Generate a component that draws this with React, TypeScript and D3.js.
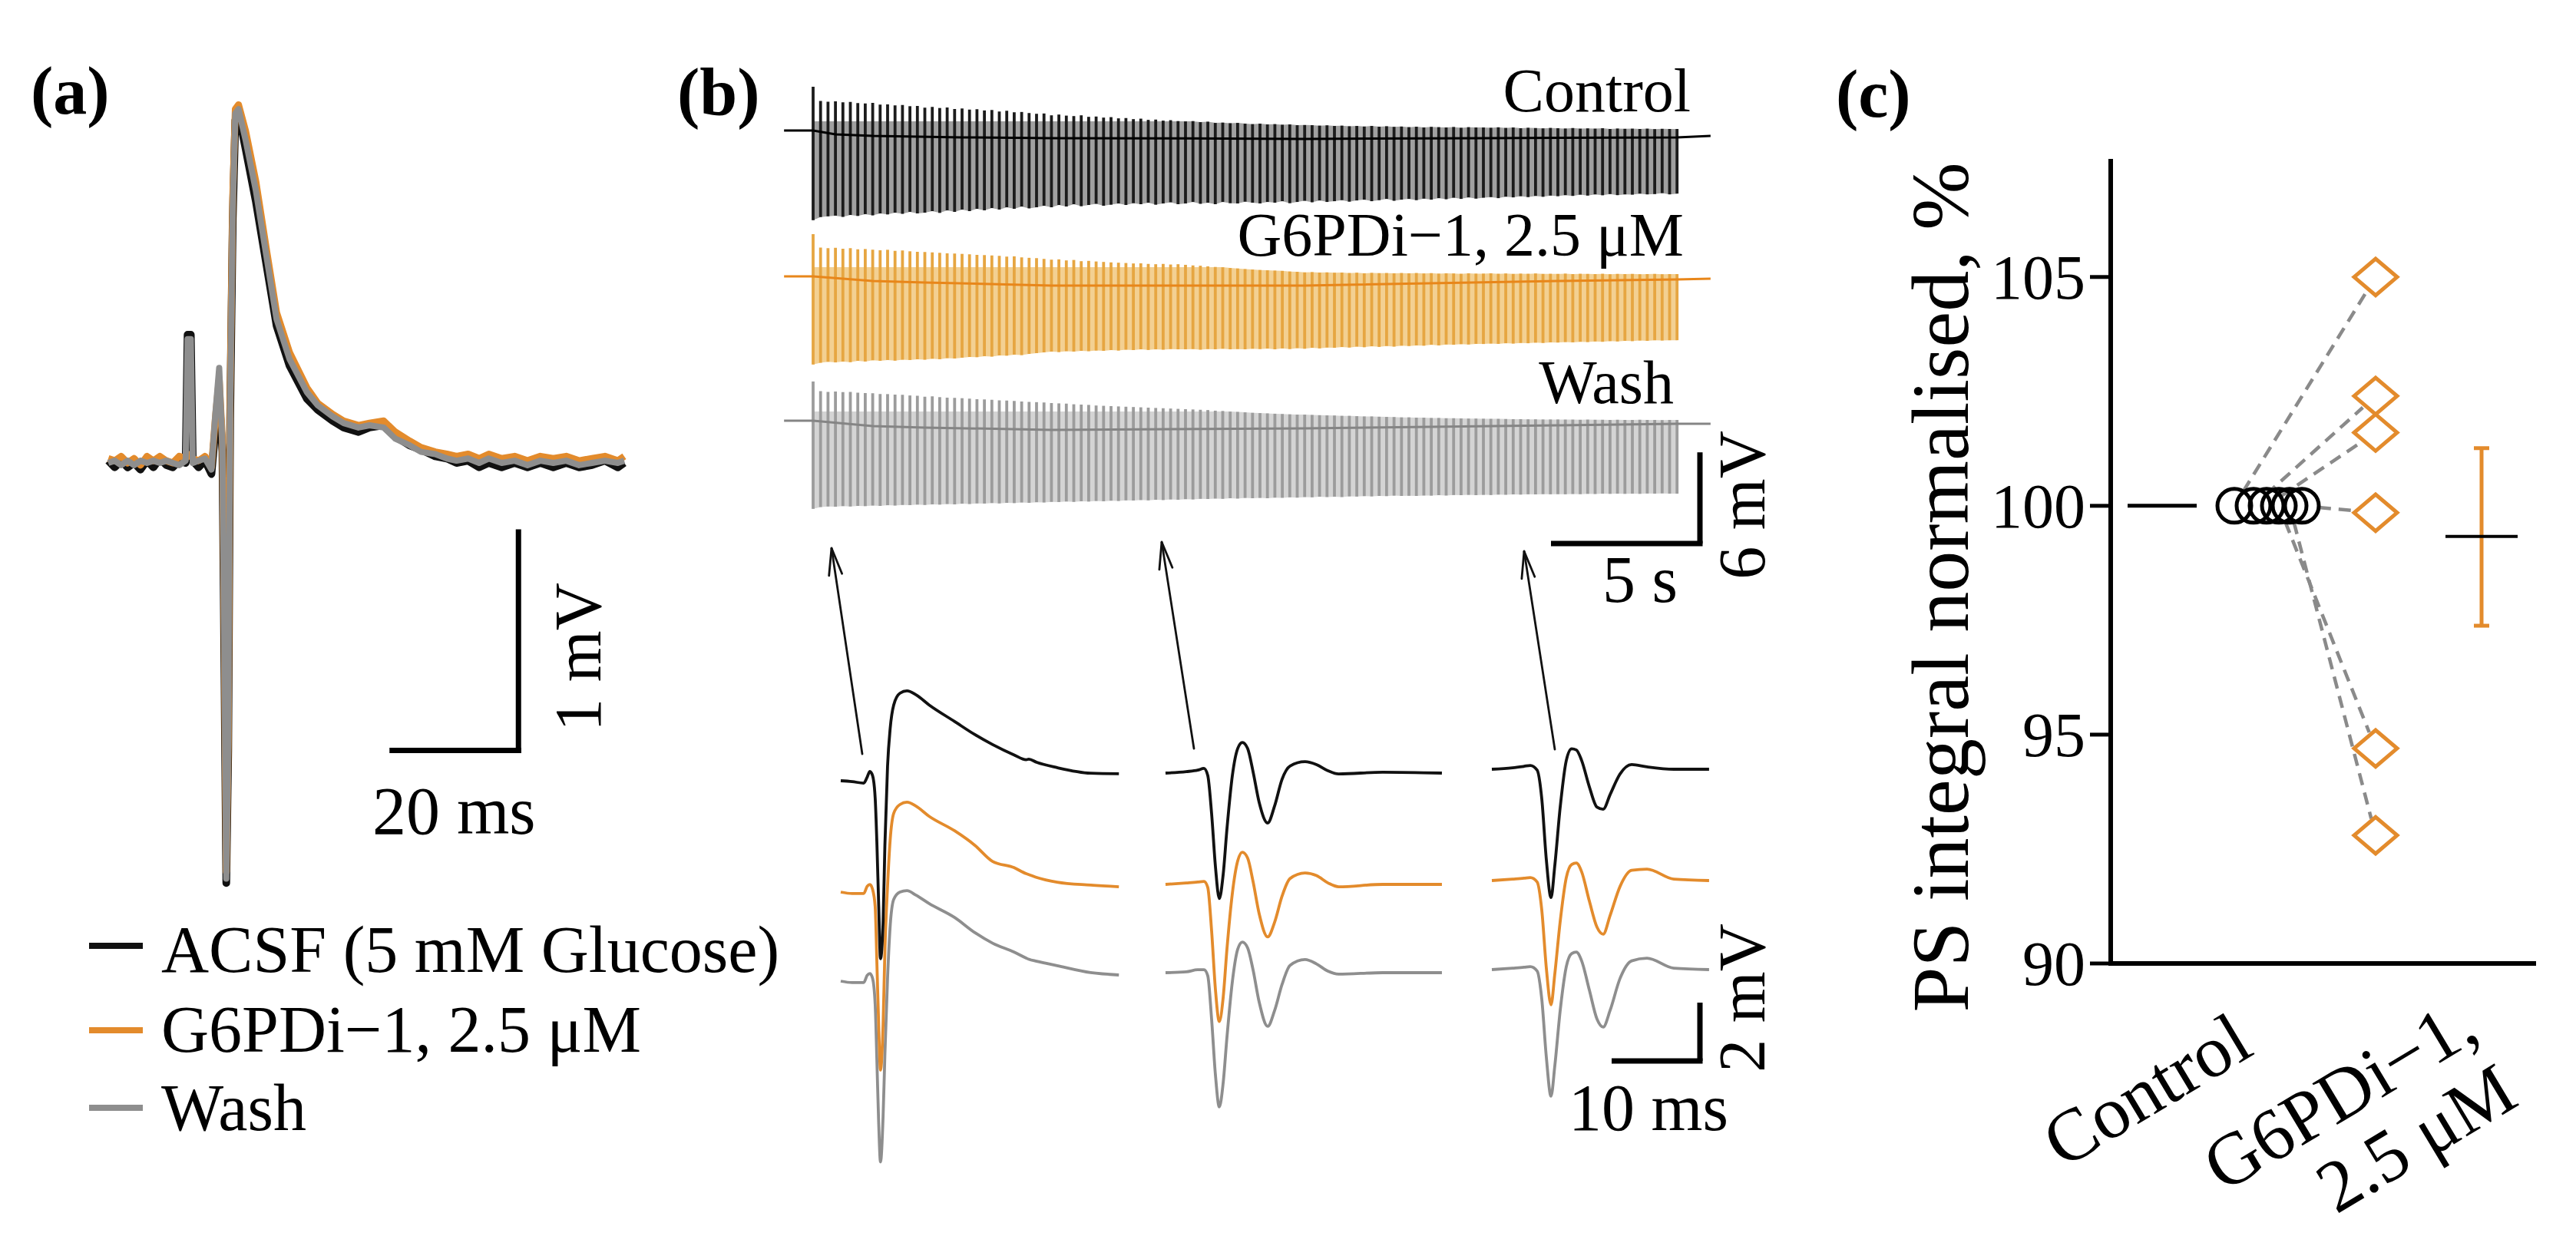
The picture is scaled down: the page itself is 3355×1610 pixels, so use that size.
import React from 'react';
import * as d3 from 'd3';

const FONT = "'Liberation Serif', 'DejaVu Serif', serif";
const BLACK = '#111111';
const ORANGE = '#E38B2C';
const GRAY = '#8E8E8E';

// ---------------- Panel (a): averaged field potentials ----------------
const aTimeMs = [0, 1, 2, 3, 4, 5, 6, 7, 8, 9, 10, 11, 12,
  12.3, 12.8, 13.1, 14, 15, 16, 16.6, 17.2, 17.7, 18.0, 18.3, 18.6, 18.9, 19.3, 19.7, 20.2,
  21.3, 22.9, 24.5, 26.1, 28.1, 30.8, 32.5, 34.8, 36.5, 38.8, 40.5, 42.7, 44.5, 46.7, 48.5, 50.7,
  52.5, 54, 55.8, 57.5, 59, 61, 63, 65, 67, 69, 71, 73, 75, 77, 79, 80];
const aACSF = [0.01, -0.02, 0.01, -0.02, 0.0, -0.03, 0.01, -0.02, 0.02, -0.01, -0.02, 0.01, 0.0,
  0.58, 0.58, 0.01, -0.02, 0.01, -0.05, 0.15, 0.3, 0.05, -0.9, -1.9, -1.3, 0.2, 1.1, 1.55, 1.58,
  1.42, 1.18, 0.9, 0.62, 0.44, 0.29, 0.24, 0.19, 0.16, 0.14, 0.16, 0.17, 0.12, 0.08, 0.06, 0.03,
  0.02, 0.0, 0.01, -0.02, 0.0, -0.02, 0.0, -0.02, 0.0, -0.02, 0.0, -0.02, -0.01, 0.01, -0.02, 0.0];
const aG6PDi = [0.02, 0.01, 0.03, 0.0, 0.02, -0.01, 0.03, 0.01, 0.03, 0.01, 0.0, 0.03, 0.02,
  0.04, 0.03, 0.02, 0.01, 0.03, -0.02, 0.2, 0.38, 0.1, -0.8, -1.85, -1.25, 0.3, 1.2, 1.6, 1.62,
  1.5, 1.27, 0.97, 0.68, 0.5, 0.34, 0.27, 0.22, 0.19, 0.17, 0.18, 0.19, 0.14, 0.1, 0.07, 0.05,
  0.04, 0.03, 0.04, 0.02, 0.04, 0.02, 0.03, 0.01, 0.03, 0.02, 0.03, 0.01, 0.02, 0.03, 0.01, 0.03];
const aWash = [0.0, 0.01, -0.01, 0.01, -0.01, 0.01, 0.0, 0.01, 0.0, 0.01, 0.0, -0.01, 0.01,
  0.56, 0.56, 0.0, 0.01, 0.02, -0.03, 0.22, 0.43, 0.08, -0.85, -1.88, -1.28, 0.25, 1.15, 1.58, 1.6,
  1.46, 1.23, 0.94, 0.65, 0.47, 0.32, 0.26, 0.21, 0.18, 0.16, 0.17, 0.16, 0.11, 0.08, 0.05, 0.04,
  0.02, 0.01, 0.02, 0.0, 0.02, 0.0, 0.01, -0.01, 0.01, 0.0, 0.01, -0.01, 0.0, 0.01, 0.0, 0.01];
const aLegend = ['ACSF (5 mM Glucose)', 'G6PDi\u22121, 2.5 \u03bcM', 'Wash'];

// ---------------- Panel (b): 4 Hz stimulation sweeps (mV per stimulus) ----------------
const STIM_INTERVAL_S = 0.25;
const sweepLabels = ['Control', 'G6PDi\u22121, 2.5 \u03bcM', 'Wash'];
const sweepTopControl = [
  2.88, 1.95, 1.9, 1.92, 1.85, 1.88, 1.8, 1.78, 1.82, 1.7,
  1.72, 1.65, 1.68, 1.6, 1.62, 1.5, 1.55, 1.48, 1.52, 1.42,
  1.45, 1.38, 1.4, 1.32, 1.35, 1.25, 1.3, 1.2, 1.22, 1.15,
  1.1, 1.12, 1.0, 1.05, 0.98, 0.95, 1.0, 0.9, 0.92, 0.85,
  0.88, 0.8, 0.82, 0.75, 0.78, 0.7, 0.72, 0.65, 0.68, 0.62,
  0.6, 0.62, 0.55, 0.58, 0.5, 0.52, 0.48, 0.5, 0.45, 0.42,
  0.45, 0.4, 0.42, 0.38, 0.4, 0.35, 0.36, 0.35, 0.32, 0.34,
  0.3, 0.32, 0.28, 0.3, 0.26, 0.3, 0.25, 0.28, 0.24, 0.26,
  0.22, 0.25, 0.2, 0.24, 0.22, 0.2, 0.23, 0.18, 0.22, 0.2,
  0.2, 0.18, 0.21, 0.17, 0.2, 0.15, 0.18, 0.16, 0.14, 0.17,
  0.15, 0.13, 0.16, 0.12, 0.14, 0.12, 0.15, 0.1, 0.13, 0.11,
  0.12, 0.1, 0.12, 0.09, 0.11, 0.1, 0.1];
const sweepBottomControl = [
  -5.9, -5.7, -5.65, -5.6, -5.68, -5.55, -5.62, -5.5, -5.58, -5.45,
  -5.52, -5.4, -5.48, -5.35, -5.45, -5.4, -5.3, -5.42, -5.25, -5.35,
  -5.2, -5.3, -5.15, -5.25, -5.1, -5.2, -5.05, -5.15, -5.0, -5.12,
  -5.05, -4.95, -5.05, -4.9, -5.0, -4.85, -4.98, -4.9, -4.82, -4.95,
  -4.88, -4.8, -4.9, -4.78, -4.85, -4.75, -4.88, -4.8, -4.72, -4.85,
  -4.8, -4.7, -4.82, -4.75, -4.85, -4.7, -4.78, -4.8, -4.68, -4.75,
  -4.8, -4.7, -4.75, -4.65, -4.78, -4.7, -4.62, -4.72, -4.6, -4.7,
  -4.65, -4.58, -4.68, -4.6, -4.55, -4.65, -4.58, -4.5, -4.62, -4.55,
  -4.5, -4.58, -4.48, -4.55, -4.45, -4.52, -4.42, -4.5, -4.4, -4.48,
  -4.42, -4.38, -4.45, -4.35, -4.4, -4.32, -4.38, -4.3, -4.36, -4.28,
  -4.32, -4.25, -4.3, -4.22, -4.28, -4.2, -4.26, -4.18, -4.25, -4.2,
  -4.22, -4.15, -4.2, -4.18, -4.12, -4.2, -4.15];
const sweepTopDrug = [
  2.78, 1.9, 1.85, 1.88, 1.82, 1.86, 1.78, 1.8, 1.75, 1.72,
  1.75, 1.68, 1.7, 1.65, 1.62, 1.6, 1.58, 1.55, 1.52, 1.5,
  1.48, 1.45, 1.42, 1.4, 1.38, 1.35, 1.3, 1.32, 1.25, 1.22,
  1.2, 1.15, 1.1, 1.12, 1.05, 1.08, 1.0, 1.02, 0.98, 0.95,
  0.92, 0.9, 0.88, 0.85, 0.86, 0.82, 0.8, 0.82, 0.78, 0.8,
  0.76, 0.72, 0.7, 0.66, 0.62, 0.6, 0.55, 0.52, 0.48, 0.45,
  0.42, 0.4, 0.38, 0.36, 0.32, 0.3, 0.26, 0.28, 0.25, 0.26,
  0.24, 0.25, 0.22, 0.24, 0.2, 0.23, 0.21, 0.22, 0.2, 0.22,
  0.2, 0.22, 0.19, 0.21, 0.18, 0.2, 0.19, 0.17, 0.2, 0.18,
  0.18, 0.2, 0.17, 0.19, 0.16, 0.18, 0.17, 0.19, 0.16, 0.17,
  0.16, 0.18, 0.15, 0.17, 0.16, 0.15, 0.17, 0.14, 0.16, 0.15,
  0.16, 0.14, 0.15, 0.16, 0.14, 0.15, 0.15];
const sweepBottomDrug = [
  -5.8, -5.68, -5.62, -5.66, -5.6, -5.64, -5.55, -5.6, -5.52, -5.56,
  -5.5, -5.54, -5.48, -5.5, -5.45, -5.48, -5.42, -5.45, -5.38, -5.4,
  -5.35, -5.3, -5.32, -5.25, -5.28, -5.2, -5.22, -5.15, -5.18, -5.1,
  -5.05, -5.0, -4.95, -4.98, -4.92, -4.95, -4.9, -4.92, -4.88, -4.9,
  -4.85, -4.88, -4.82, -4.85, -4.8, -4.84, -4.8, -4.82, -4.78, -4.8,
  -4.8, -4.78, -4.82, -4.78, -4.8, -4.76, -4.8, -4.78, -4.8, -4.76,
  -4.78, -4.75, -4.8, -4.74, -4.78, -4.72, -4.76, -4.7, -4.74, -4.68,
  -4.7, -4.65, -4.68, -4.62, -4.66, -4.6, -4.64, -4.58, -4.62, -4.56,
  -4.58, -4.54, -4.56, -4.5, -4.54, -4.48, -4.5, -4.46, -4.48, -4.44,
  -4.45, -4.42, -4.44, -4.4, -4.42, -4.38, -4.4, -4.36, -4.38, -4.34,
  -4.35, -4.32, -4.34, -4.3, -4.32, -4.28, -4.3, -4.26, -4.28, -4.24,
  -4.26, -4.22, -4.24, -4.2, -4.22, -4.2, -4.2];
const sweepTopWash = [
  2.58, 1.95, 1.9, 1.92, 1.88, 1.9, 1.84, 1.82, 1.8, 1.76,
  1.75, 1.72, 1.7, 1.66, 1.64, 1.58, 1.6, 1.55, 1.52, 1.5,
  1.48, 1.45, 1.42, 1.4, 1.38, 1.34, 1.32, 1.3, 1.26, 1.24,
  1.22, 1.2, 1.16, 1.14, 1.12, 1.08, 1.06, 1.04, 1.0, 0.98,
  0.96, 0.94, 0.92, 0.9, 0.88, 0.86, 0.84, 0.82, 0.8, 0.78,
  0.76, 0.74, 0.72, 0.7, 0.66, 0.64, 0.6, 0.58, 0.55, 0.52,
  0.5, 0.48, 0.46, 0.44, 0.42, 0.4, 0.4, 0.38, 0.36, 0.35,
  0.34, 0.32, 0.32, 0.3, 0.28, 0.28, 0.26, 0.25, 0.24, 0.22,
  0.22, 0.2, 0.2, 0.18, 0.18, 0.16, 0.16, 0.15, 0.14, 0.14,
  0.13, 0.12, 0.12, 0.11, 0.1, 0.1, 0.09, 0.09, 0.08, 0.08,
  0.08, 0.07, 0.07, 0.06, 0.07, 0.06, 0.06, 0.05, 0.06, 0.05,
  0.05, 0.06, 0.05, 0.05, 0.04, 0.05, 0.05];
const sweepBottomWash = [
  -5.8, -5.68, -5.64, -5.66, -5.62, -5.64, -5.6, -5.62, -5.58, -5.6,
  -5.56, -5.58, -5.54, -5.55, -5.52, -5.54, -5.5, -5.52, -5.48, -5.5,
  -5.46, -5.48, -5.44, -5.45, -5.42, -5.44, -5.4, -5.42, -5.38, -5.4,
  -5.36, -5.38, -5.34, -5.35, -5.32, -5.34, -5.3, -5.32, -5.28, -5.3,
  -5.26, -5.28, -5.24, -5.25, -5.22, -5.24, -5.2, -5.22, -5.18, -5.2,
  -5.16, -5.18, -5.14, -5.15, -5.12, -5.14, -5.1, -5.12, -5.08, -5.1,
  -5.08, -5.1, -5.06, -5.07, -5.04, -5.06, -5.02, -5.04, -5.0, -5.02,
  -5.0, -5.02, -4.98, -4.99, -4.96, -4.98, -4.95, -4.96, -4.93, -4.95,
  -4.94, -4.95, -4.92, -4.93, -4.9, -4.92, -4.89, -4.9, -4.88, -4.9,
  -4.88, -4.89, -4.86, -4.87, -4.85, -4.86, -4.84, -4.85, -4.83, -4.84,
  -4.83, -4.84, -4.82, -4.83, -4.81, -4.82, -4.8, -4.81, -4.8, -4.81,
  -4.8, -4.81, -4.79, -4.8, -4.78, -4.8, -4.8];
// slow baseline drift (stimulus index, mV)
const baseIdxControl = [-3.9, 0, 3, 8, 20, 32, 50, 66, 90, 116, 120.5];
const baseControl = [0, 0, -0.25, -0.35, -0.45, -0.5, -0.52, -0.55, -0.5, -0.45, -0.35];
const baseIdxDrug = [-3.9, 0, 8, 15, 32, 66, 100, 116, 120.5];
const baseDrug = [0, 0, -0.3, -0.4, -0.6, -0.6, -0.3, -0.2, -0.15];
const baseIdxWash = [-3.9, 0, 8, 15, 32, 66, 100, 116, 120.5];
const baseWash = [0, 0, -0.35, -0.45, -0.6, -0.5, -0.3, -0.2, -0.2];

// ---------------- Panel (b): single responses (ms, mV) ----------------
const resp1Time = [0, 1.3, 2.6, 3.0, 3.3, 3.6, 3.9, 4.1, 4.3, 4.5, 4.8, 5.0, 5.3, 5.6, 6.0, 6.7, 7.5, 8.5, 10, 12.9, 15.2, 17.2, 19.6, 21.0, 21.3, 22.2, 24.5, 28.3, 31.5];
const resp1Control = [0, -0.03, -0.08, 0.13, 0.32, 0.18, -0.6, -2.2, -4.3, -6.1, -4.8, -2.2, 0.5, 1.8, 2.6, 3.0, 3.08, 2.95, 2.6, 2.03, 1.58, 1.24, 0.89, 0.72, 0.74, 0.63, 0.45, 0.26, 0.24];
const resp1Drug = [0, -0.05, -0.05, 0.2, 0.26, 0.1, -0.5, -2.5, -4.6, -6.1, -4.5, -2.0, 0.2, 1.8, 2.7, 3.0, 3.08, 2.95, 2.6, 2.1, 1.6, 1.05, 0.84, 0.63, 0.6, 0.5, 0.34, 0.24, 0.18];
const resp1Wash = [0, -0.05, -0.05, 0.2, 0.26, 0.1, -0.8, -2.8, -4.9, -6.2, -4.6, -2.5, 0.1, 1.9, 2.8, 3.05, 3.1, 2.95, 2.66, 2.18, 1.66, 1.3, 1.0, 0.79, 0.75, 0.68, 0.53, 0.29, 0.21];
const resp2Time = [0, 2.35, 3.65, 4.35, 4.78, 5.22, 5.65, 6.09, 6.52, 6.96, 7.57, 8.17, 8.7, 9.3, 9.91, 10.6, 11.57, 12.35, 13.2, 14.1, 15.8, 17.1, 18.4, 19.6, 24.6, 31.3];
const resp2Control = [0, 0.05, 0.1, 0.16, -0.08, -1.4, -3.2, -4.3, -3.5, -1.9, -0.08, 0.84, 1.05, 0.84, 0.05, -1.0, -1.71, -1.13, -0.21, 0.24, 0.39, 0.29, 0.08, -0.03, 0.03, 0];
const resp2Drug = [0, 0.05, 0.08, 0.1, -0.1, -1.6, -3.6, -4.7, -3.9, -2.2, -0.3, 0.8, 1.1, 0.9, 0.1, -1.0, -1.8, -1.3, -0.4, 0.2, 0.39, 0.3, 0.05, -0.08, 0.0, 0.0];
const resp2Wash = [0, 0.03, 0.1, 0.1, -0.1, -1.6, -3.5, -4.6, -3.8, -2.2, -0.3, 0.8, 1.05, 0.85, 0.1, -1.0, -1.84, -1.3, -0.4, 0.25, 0.45, 0.3, 0.05, -0.05, 0.0, 0.0];
const resp3Time = [0, 2.35, 3.65, 4.35, 5.13, 5.65, 6.17, 6.7, 7.13, 7.74, 8.43, 9.04, 9.57, 10.17, 11.04, 11.91, 12.61, 13.39, 14.52, 15.83, 17.57, 20.6, 24.6];
const resp3Control = [0, 0.05, 0.1, 0.13, -0.03, -1.0, -3.1, -4.4, -3.3, -1.3, 0.3, 0.7, 0.66, 0.3, -0.6, -1.3, -1.37, -0.87, -0.16, 0.16, 0.08, 0, 0];
const resp3Drug = [0, 0.05, 0.08, 0.1, -0.05, -1.0, -3.0, -4.26, -3.2, -1.4, 0.1, 0.55, 0.6, 0.3, -0.7, -1.6, -1.84, -1.2, -0.2, 0.35, 0.39, 0.05, 0];
const resp3Wash = [0, 0.05, 0.08, 0.1, -0.05, -1.0, -3.0, -4.34, -3.3, -1.4, 0.1, 0.55, 0.6, 0.3, -0.7, -1.7, -1.97, -1.4, -0.3, 0.3, 0.39, 0.05, 0];

// ---------------- Panel (c): PS integral ----------------
const cCategories = ['Control', 'G6PDi'];
const cControlValues = [100, 100, 100, 100, 100, 100];
const cControlJitter = [25, 50, 67, 83, 97, 113];
const cDrugValues = [105.0, 102.4, 101.6, 94.7, 92.8, 99.85];
const cMeans = [100, 99.33];
const cErrLow = [100, 97.38];
const cErrHigh = [100, 101.26];
const cTicks = [90, 95, 100, 105];

function Arrow({ x1, y1, x2, y2 }: { x1: number; y1: number; x2: number; y2: number }) {
  const ang = Math.atan2(y2 - y1, x2 - x1);
  const L = 36, spread = 0.24;
  const h1 = [x2 - L * Math.cos(ang - spread), y2 - L * Math.sin(ang - spread)];
  const h2 = [x2 - L * Math.cos(ang + spread), y2 - L * Math.sin(ang + spread)];
  return (
    <g stroke="#111" strokeWidth={2.8} fill="none" strokeLinecap="round">
      <line x1={x1} y1={y1} x2={x2} y2={y2} />
      <polyline points={`${h1[0]},${h1[1]} ${x2},${y2} ${h2[0]},${h2[1]}`} />
    </g>
  );
}

export default function App() {
  const W = 3355, H = 1610;

  // ----- panel a scales
  const aX = d3.scaleLinear().domain([0, 80]).range([141, 813]);
  const aY = d3.scaleLinear().domain([0, 1]).range([603, 315]);
  const aPath = (vals: number[]) =>
    d3.line<number>().x((_, i) => aX(aTimeMs[i])).y((d) => aY(d))(vals) || '';
  const aTraces = [
    { vals: aACSF, color: BLACK, w: 10 },
    { vals: aG6PDi, color: ORANGE, w: 9 },
    { vals: aWash, color: GRAY, w: 8 },
  ];
  const legendColors = [BLACK, ORANGE, GRAY];

  // ----- panel b sweeps
  const sX = d3.scaleLinear().domain([0, 1]).range([1059, 1059 + 38.8]);
  const sweeps = [
    { label: sweepLabels[0], top: sweepTopControl, bottom: sweepBottomControl, bi: baseIdxControl, bv: baseControl,
      y0: 170, lineC: '#1c1c1c', fillC: '#a0a0a0', baseC: '#000', lx: 2202, ly: 145 },
    { label: sweepLabels[1], top: sweepTopDrug, bottom: sweepBottomDrug, bi: baseIdxDrug, bv: baseDrug,
      y0: 360, lineC: '#E6A642', fillC: '#F3D092', baseC: '#E8861A', lx: 2193, ly: 333 },
    { label: sweepLabels[2], top: sweepTopWash, bottom: sweepBottomWash, bi: baseIdxWash, bv: baseWash,
      y0: 548, lineC: '#9c9c9c', fillC: '#d4d4d4', baseC: '#858585', lx: 2180, ly: 525 },
  ];

  // ----- panel b responses
  const respCols = [
    { x0: 1095, bases: [1017, 1162, 1278], t: resp1Time, v: [resp1Control, resp1Drug, resp1Wash] },
    { x0: 1518, bases: [1007, 1152, 1267], t: resp2Time, v: [resp2Control, resp2Drug, resp2Wash] },
    { x0: 1943, bases: [1002, 1147, 1263], t: resp3Time, v: [resp3Control, resp3Drug, resp3Wash] },
  ];
  const respColors = [BLACK, ORANGE, GRAY];
  const arrows = [
    { x1: 1123, y1: 982, x2: 1083, y2: 714 },
    { x1: 1555, y1: 975, x2: 1513, y2: 706 },
    { x1: 2025, y1: 976, x2: 1985, y2: 718 },
  ];

  // ----- panel c
  const cY = d3.scaleLinear().domain([90, 107.58]).range([1255, 207]);
  const cX = d3.scalePoint<string>().domain(cCategories).range([2885, 3163]);
  const OFF = 69;
  const axX = 2749;
  const xCtrl = cX('Control') as number;
  const xDrug = cX('G6PDi') as number;
  const circR = 22;
  const diaR = 28;

  const mvPerPxB = 19.8;
  const msPx = 11.5;
  const mvPx = 38;

  return (
    <svg width={W} height={H} style={{ position: 'absolute', left: 0, top: 0, background: '#fff', fontFamily: FONT }}>
      <rect x={0} y={0} width={W} height={H} fill="#fff" />

      {/* ================= Panel (a) ================= */}
      <text x={40} y={148} fontSize={88} fontWeight="bold">(a)</text>
      {aTraces.map((tr, k) => (
        <path key={k} d={aPath(tr.vals)} fill="none" stroke={tr.color} strokeWidth={tr.w}
          strokeLinejoin="round" />
      ))}
      {/* scale bar: 20 ms / 1 mV */}
      <g stroke="#000" strokeWidth={7} fill="none">
        <line x1={aX(43.6)} x2={aX(63.6) + 3.5} y1={aY(-1.3)} y2={aY(-1.3)} />
        <line x1={aX(63.6)} x2={aX(63.6)} y1={aY(-0.3)} y2={aY(-1.3) + 3.5} />
      </g>
      <text x={(aX(43.6) + aX(63.6)) / 2} y={1086} fontSize={88} textAnchor="middle">20 ms</text>
      <text transform={`translate(782,856) rotate(-90)`} fontSize={86} textAnchor="middle">1 mV</text>
      {/* legend */}
      {aLegend.map((lab, i) => (
        <g key={lab}>
          <line x1={116} x2={186} y1={[1232, 1342, 1443][i]} y2={[1232, 1342, 1443][i]}
            stroke={legendColors[i]} strokeWidth={8} />
          <text x={210} y={[1266, 1370, 1472][i]} fontSize={86}>{lab}</text>
        </g>
      ))}

      {/* ================= Panel (b) ================= */}
      <text x={882} y={150} fontSize={88} fontWeight="bold">(b)</text>
      {sweeps.map((sw, k) => {
        const yS = d3.scaleLinear().domain([0, 1]).range([sw.y0, sw.y0 - mvPerPxB]);
        const n = Math.min(sw.top.length, sw.bottom.length);
        const idx = d3.range(n);
        const area = d3.area<number>()
          .x((i) => sX(i * STIM_INTERVAL_S))
          .y0((i) => yS(sw.bottom[i]))
          .y1((i) => yS(Math.min(sw.top[i], 0.6)))(idx) || '';
        const base = d3.line<number>()
          .x((_, i) => sX(sw.bi[i] * STIM_INTERVAL_S))
          .y((d) => yS(d))(sw.bv) || '';
        return (
          <g key={k}>
            <path d={area} fill={sw.fillC} stroke="none" />
            {idx.map((i) => (
              <line key={i} x1={sX(i * STIM_INTERVAL_S)} x2={sX(i * STIM_INTERVAL_S)}
                y1={yS(sw.top[i])} y2={yS(sw.bottom[i])} stroke={sw.lineC} strokeWidth={3.8} />
            ))}
            <path d={base} fill="none" stroke={sw.baseC} strokeWidth={3} />
            <text x={sw.lx} y={sw.ly} fontSize={80} textAnchor="end">{sw.label}</text>
          </g>
        );
      })}
      {/* sweep scale bar: 5 s / 6 mV */}
      <g stroke="#000" strokeWidth={7} fill="none">
        <line x1={2214 - (sX(5) - sX(0))} x2={2214 + 3.5} y1={708} y2={708} />
        <line x1={2214} x2={2214} y1={708 - 6 * mvPerPxB} y2={708} />
      </g>
      <text x={2136} y={784} fontSize={86} textAnchor="middle">5 s</text>
      <text transform={`translate(2298,658) rotate(-90)`} fontSize={86} textAnchor="middle">6 mV</text>

      {arrows.map((a, i) => <Arrow key={i} {...a} />)}

      {respCols.map((col, c) => {
        const xs = d3.scaleLinear().domain([0, 1]).range([col.x0, col.x0 + msPx]);
        return (
          <g key={c}>
            {[2, 1, 0].map((k) => {
              const ys = d3.scaleLinear().domain([0, 1]).range([col.bases[k], col.bases[k] - mvPx]);
              const p = d3.line<number>().x((_, i) => xs(col.t[i])).y((d) => ys(d))
                .curve(d3.curveMonotoneX)(col.v[k]) || '';
              return <path key={k} d={p} fill="none" stroke={respColors[k]} strokeWidth={3.8}
                strokeLinejoin="round" />;
            })}
          </g>
        );
      })}
      {/* response scale bar: 10 ms / 2 mV */}
      <g stroke="#000" strokeWidth={7} fill="none">
        <line x1={2214 - 10 * msPx} x2={2214 + 3.5} y1={1382} y2={1382} />
        <line x1={2214} x2={2214} y1={1382 - 2 * mvPx} y2={1382} />
      </g>
      <text x={2147} y={1472} fontSize={86} textAnchor="middle">10 ms</text>
      <text transform={`translate(2298,1300) rotate(-90)`} fontSize={86} textAnchor="middle">2 mV</text>

      {/* ================= Panel (c) ================= */}
      <text x={2391} y={152} fontSize={88} fontWeight="bold">(c)</text>
      <g stroke="#000" strokeWidth={6}>
        <line x1={axX} x2={axX} y1={cY(107.58)} y2={cY(90) + 3} />
        <line x1={axX - 3} x2={3303} y1={cY(90)} y2={cY(90)} />
        {cTicks.map((t) => (
          <line key={t} x1={axX - 27} x2={axX} y1={cY(t)} y2={cY(t)} strokeWidth={5} />
        ))}
      </g>
      {cTicks.map((t) => (
        <text key={t} x={axX - 33} y={cY(t)} dy="0.34em" fontSize={82} textAnchor="end">{t}</text>
      ))}
      <text transform={`translate(2563,765) rotate(-90)`} fontSize={106} textAnchor="middle">
        PS integral normalised, %
      </text>
      {/* x labels */}
      <text transform={`translate(2938,1372) rotate(-31)`} fontSize={96} textAnchor="end">Control</text>
      <g transform={`translate(3232,1352) rotate(-31)`}>
        <text x={0} y={0} fontSize={96} textAnchor="end">{'G6PDi\u22121,'}</text>
        <text x={0} y={100} fontSize={96} textAnchor="end">{'2.5 \u03bcM'}</text>
      </g>

      {/* paired dashed lines */}
      {cDrugValues.map((v, i) => {
        const x1 = xCtrl + cControlJitter[i], y1 = cY(cControlValues[i]);
        const x2 = xDrug - OFF, y2 = cY(v);
        const d = Math.hypot(x2 - x1, y2 - y1);
        const ux = (x2 - x1) / d, uy = (y2 - y1) / d;
        return (
          <line key={i} x1={x1 + ux * circR} y1={y1 + uy * circR} x2={x2 - ux * diaR * 0.8}
            y2={y2 - uy * diaR * 0.8} stroke="#8a8a8a" strokeWidth={4.5} strokeDasharray="16 10" />
        );
      })}
      {/* control mean */}
      <line x1={xCtrl - OFF - 45} x2={xCtrl - OFF + 45} y1={cY(cMeans[0])} y2={cY(cMeans[0])}
        stroke="#000" strokeWidth={5} />
      {/* control points */}
      {cControlValues.map((v, i) => (
        <circle key={i} cx={xCtrl + cControlJitter[i]} cy={cY(v)} r={circR} fill="none"
          stroke="#000" strokeWidth={5} />
      ))}
      {/* drug points */}
      {cDrugValues.map((v, i) => {
        const cx = xDrug - OFF, cy = cY(v);
        return (
          <polygon key={i}
            points={`${cx - diaR},${cy} ${cx},${cy - diaR * 0.85} ${cx + diaR},${cy} ${cx},${cy + diaR * 0.85}`}
            fill="#fff" stroke={ORANGE} strokeWidth={5} strokeLinejoin="miter" />
        );
      })}
      {/* drug mean +/- sem */}
      <g stroke={ORANGE} strokeWidth={5}>
        <line x1={xDrug + OFF} x2={xDrug + OFF} y1={cY(cErrHigh[1])} y2={cY(cErrLow[1])} />
        <line x1={xDrug + OFF - 10} x2={xDrug + OFF + 10} y1={cY(cErrHigh[1])} y2={cY(cErrHigh[1])} />
        <line x1={xDrug + OFF - 10} x2={xDrug + OFF + 10} y1={cY(cErrLow[1])} y2={cY(cErrLow[1])} />
      </g>
      <line x1={xDrug + OFF - 47} x2={xDrug + OFF + 47} y1={cY(cMeans[1])} y2={cY(cMeans[1])}
        stroke="#000" strokeWidth={4} />
    </svg>
  );
}
